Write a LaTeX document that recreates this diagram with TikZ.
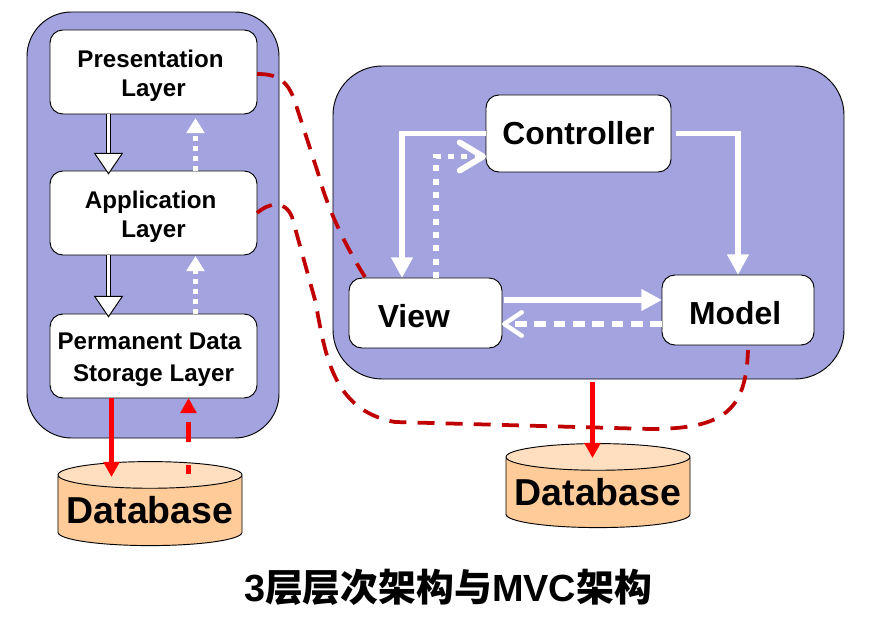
\documentclass[tikz,border=0pt]{standalone}
\usepackage{fontspec}
\setmainfont{Liberation Sans}
\newfontfamily\cjk{Noto Sans CJK SC}
\usetikzlibrary{arrows.meta,calc,shapes.geometric}
\definecolor{panelblue}{HTML}{A3A3DF}
\definecolor{darkred}{HTML}{C00000}
\definecolor{dbbody}{HTML}{FFCC99}
\definecolor{dbtop}{HTML}{FFDFC0}
\newcommand{\toprule}[1]{\rule{0pt}{#1}}

\begin{document}
\begin{tikzpicture}[
  x=0.03cm,
  y=-0.03cm,
  panel/.style={draw=black,fill=panelblue,line width=0.8pt,rounded corners=38pt,inner sep=0pt,outer sep=0pt},
  layerbox/.style={draw=black,fill=white,line width=0.8pt,rounded corners=11pt,inner sep=0pt,outer sep=0pt,
    minimum width=6.21cm,minimum height=2.52cm,align=center,font=\fontsize{20.6}{24.8}\selectfont\bfseries},
  mvcbox/.style={draw=black,fill=white,line width=0.8pt,rounded corners=11pt,inner sep=0pt,outer sep=0pt,
    font=\fontsize{27.2}{32}\selectfont\bfseries},
  dbcyl/.style={draw=black,line width=0.8pt,cylinder,shape border rotate=90,shape aspect=0.16,
    cylinder uses custom fill,cylinder body fill=dbbody,cylinder end fill=dbtop,inner sep=0pt,outer sep=0pt,
    minimum width=5.52cm,font=\fontsize{32}{36}\selectfont\bfseries},
  hollow/.style={draw=black,double=white,double distance=2.6pt,line width=0.6pt,
    -{Triangle[length=18.5pt,width=25pt,fill=white,line width=0.8pt]},shorten >=-3pt},
  whitesolid/.style={white,line width=5pt,-{Triangle[length=17.5pt,width=17.5pt]}},
  barbtip/.style={-{Straight Barb[length=20pt,width=24pt,line width=5pt,round]}},
  barbsmall/.style={-{Straight Barb[length=15pt,width=20pt,line width=3.8pt,round]}},
  updots/.style={white,line width=4.4pt,dash pattern=on 4.3pt off 4.2pt,-{Triangle[length=13pt,width=15pt]}},
  redflow/.style={red,line width=4.6pt,-{Triangle[length=13pt,width=13.5pt]}},
  reddash/.style={darkred,line width=3.2pt,dash pattern=on 14.5pt off 9.5pt}
]
\useasboundingbox (0,0) rectangle (887,626);

% Panels
\node (leftpanel) [panel,minimum width=7.56cm,minimum height=12.78cm] at (153,225) {};
\node (rightpanel) [panel,minimum width=15.33cm,minimum height=9.39cm,rounded corners=42pt] at (588.5,222.5) {};

% Three layers
\node (present) [layerbox] at (153.5,72) {\toprule{21.2pt}Presentation\hspace*{5pt}\\Layer};
\node (app) [layerbox] at (153.5,213) {\toprule{22pt}Application\hspace*{5pt}\\Layer};
\node (perm) [layerbox] at (153.5,356) {\toprule{20.5pt}Permanent Data\hspace*{7pt}\\[2.2pt]Storage Layer};

% MVC boxes
\node (controller) [mvcbox,minimum width=5.55cm,minimum height=2.31cm] at (578.5,133.5) {Controller};
\node (view) [mvcbox,minimum width=4.59cm,minimum height=2.10cm] at (425.5,313) {\toprule{24.5pt}View\hspace*{20pt}};
\node (model) [mvcbox,minimum width=4.56cm,minimum height=2.10cm] at (738,310) {\toprule{24.5pt}Model\hspace*{5pt}};

% Databases
\node (dbleft) [dbcyl,minimum height=2.52cm] at (150,510.5) {Database};
\node (dbright) [dbcyl,minimum height=2.52cm] at (598,492.5) {Database};

% Title
\node (title) at (448,587) {\fontsize{32.3}{36}\selectfont\bfseries 3{\cjk 层层次架构与}MVC{\cjk 架构}};

% Lanes for the arrows
\coordinate (laneA) at (108.5,0);
\coordinate (laneB) at (195.5,0);
\coordinate (laneC) at (111.5,0);
\coordinate (laneD) at (188.5,0);
\coordinate (colA) at (402,0);
\coordinate (colB) at (436,0);
\coordinate (rowA) at (0,156.5);
\coordinate (rowB) at (0,300);
\coordinate (rowC) at (0,324);
\coordinate (dbleftin) at (111.5,477);
\coordinate (dbleftout) at (188.5,474.5);
\coordinate (dbrightin) at (592.5,458);
\coordinate (viewcorner) at (365,277);
\coordinate (modelfoot) at (748,350);

% Cross-layer connections
\draw[reddash] (present.east) ++(0,2) .. controls (275,74) and (288,78) .. (296,105)
  -- (318,173) .. controls (328,210) and (345,245) .. (viewcorner);
\draw[reddash] (app.east) .. controls (270,202) and (285,200) .. (292,217)
  -- (315,300) .. controls (325,350) and (330,410) .. (395,422)
  -- (650,429) .. controls (725,429) and (746,410) .. (modelfoot);

% Layer arrows
\draw[hollow] (laneA |- present.south) -- (laneA |- app.north);
\draw[hollow] (laneA |- app.south) -- (laneA |- perm.north);
\draw[updots] (laneB |- app.north) -- ($(laneB |- present.south)+(0,4)$);
\draw[updots] (laneB |- perm.north) -- ($(laneB |- app.south)+(0,1)$);
\draw[redflow] (laneC |- perm.south) -- (dbleftin);
\draw[redflow,dash pattern=on 17pt off 19.5pt,dash phase=9pt] (dbleftout) -- (laneD |- perm.south);

% MVC arrows
\draw[whitesolid] (controller.west) -| (colA |- view.north);
\draw[white,line width=5pt,dash pattern=on 5pt off 6.4pt,barbtip] (colB |- view.north) |- (controller.west |- rowA);
\draw[whitesolid,shorten <=4pt] (controller.east) -| (model.north);
\draw[whitesolid,line width=5.6pt,shorten <=2pt] (view.east |- rowB) -- (model.west |- rowB);
\draw[white,line width=4.4pt,dash pattern=on 10pt off 6.5pt,barbsmall] (model.west |- rowC) -- (view.east |- rowC);

% Central database arrow
\draw[redflow,shorten <=2.5pt] (rightpanel.south -| dbrightin) -- (dbrightin);

\end{tikzpicture}
\end{document}
